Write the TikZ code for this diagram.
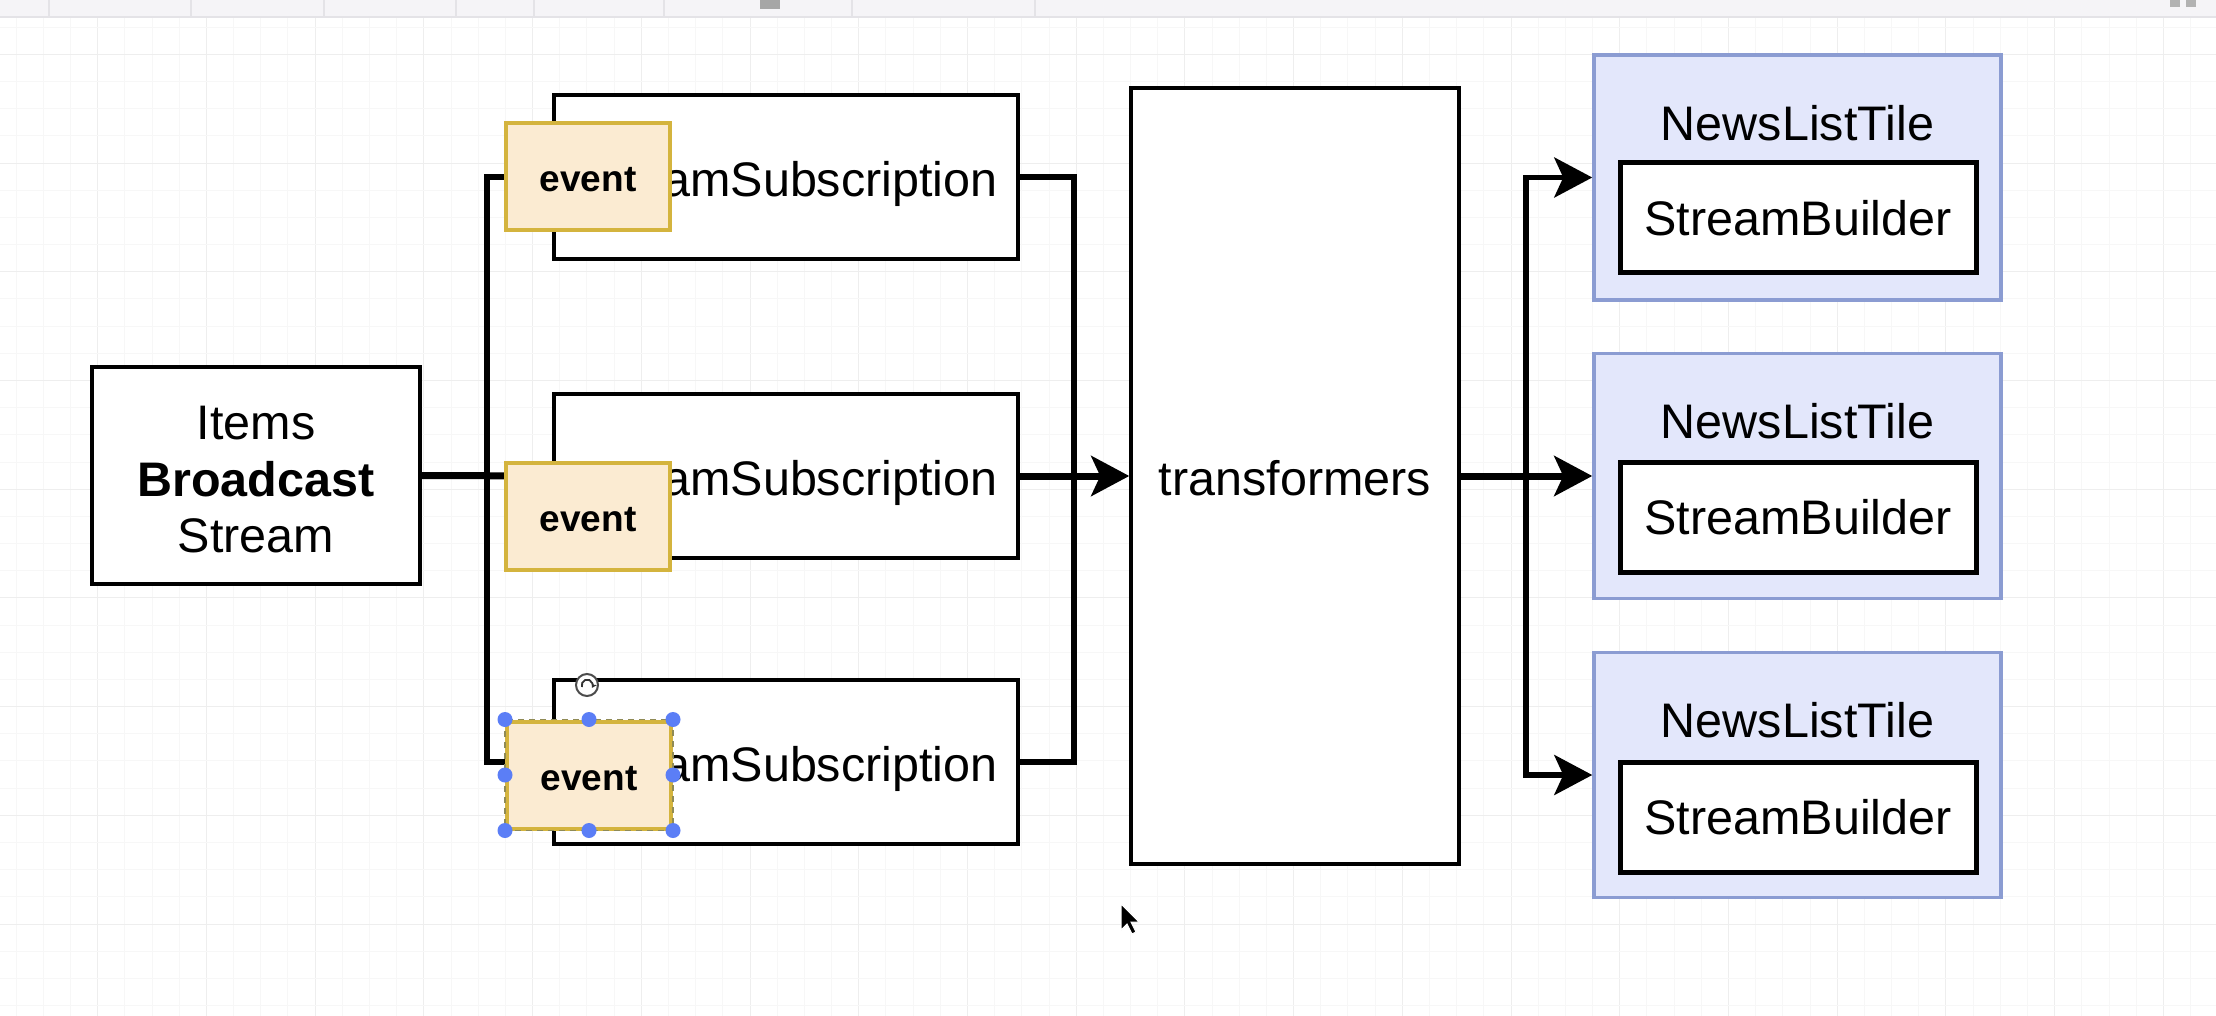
\documentclass[tikz,border=0pt]{standalone}
\usepackage{fontspec}
\setmainfont{Liberation Sans}
\usetikzlibrary{arrows.meta,calc}
\definecolor{evfill}{HTML}{FBEBD2}
\definecolor{evdraw}{HTML}{D4B43E}
\definecolor{nlfill}{HTML}{E3E7FB}
\definecolor{nldraw}{HTML}{8B9CD2}
\definecolor{handlec}{HTML}{5B7EF6}
\definecolor{gridmaj}{HTML}{EEEEEE}
\definecolor{gridmin}{HTML}{F7F7F7}
\definecolor{barfill}{HTML}{F5F4F7}
\definecolor{barline}{HTML}{E4E3E7}
\begin{document}
\begin{tikzpicture}[x=1pt,y=-1pt,
  txt/.style={font=\fontsize{48.5}{56.5}\selectfont, align=center, inner sep=0pt},
  plainbox/.style={draw=black, fill=white, line width=4pt, rectangle, txt},
  subbox/.style={plainbox, minimum width=464pt, minimum height=164pt, text height=50pt},
  evbox/.style={draw=evdraw, fill=evfill, line width=4pt, rectangle, minimum width=164pt, minimum height=107pt, inner sep=0pt, font=\fontsize{37}{44}\selectfont\bfseries, text height=31pt},
  nlbox/.style={draw=nldraw, fill=nlfill, line width=3.5pt, rectangle, minimum width=407pt, minimum height=245pt},
  sbbox/.style={plainbox, line width=5pt, minimum width=356pt, minimum height=110pt},
  conn/.style={draw=black, line width=5.5pt},
  arr/.style={conn, -{Stealth[length=38pt,width=40pt,inset=9pt]}},
  handle/.style={circle, fill=handlec, minimum size=15pt, inner sep=0pt},
  lbl/.style={txt}
]
\useasboundingbox (0,0) rectangle (2216,1016);
\fill[white] (0,0) rectangle (2216,1016);
% grid
\foreach \i in {-4,...,78} {
  \pgfmathsetmacro{\gx}{97.7+27.18*\i}
  \pgfmathtruncatemacro{\m}{mod(\i+400,4)}
  \ifnum\m=0 \draw[gridmaj, line width=1pt] (\gx,18) -- (\gx,1016);
  \else \draw[gridmin, line width=1pt] (\gx,18) -- (\gx,1016); \fi
}
\foreach \j in {0,...,36} {
  \pgfmathsetmacro{\gy}{54.3+27.18*\j}
  \pgfmathtruncatemacro{\m}{mod(\j+400,4)}
  \ifnum\m=0 \draw[gridmaj, line width=1pt] (0,\gy) -- (2216,\gy);
  \else \draw[gridmin, line width=1pt] (0,\gy) -- (2216,\gy); \fi
}
\draw[gridmin, line width=1pt] (0,27.1) -- (2216,27.1);
% top bar
\fill[barfill] (0,0) rectangle (2216,17);
\draw[barline, line width=1.5pt] (0,17) -- (2216,17);
\foreach \sx in {49,191,324,456,534,664,852,1035} \draw[barline, line width=1.5pt] (\sx,0) -- (\sx,17);
\fill[gray!70] (760,0) rectangle (780,9);
\fill[gray!60] (2170,0) rectangle (2180,7);
\fill[gray!60] (2186,0) rectangle (2196,7);

% boxes
\node[plainbox, minimum width=328pt, minimum height=217pt] (items) at (256,475.5) {};
\node[txt] (itemst) at (256,480) {Items\\\textbf{Broadcast}\\Stream};
\node[subbox] (sub1) at (786,177) {StreamSubscription};
\node[subbox] (sub2) at (786,476) {StreamSubscription};
\node[subbox] (sub3) at (786,762) {StreamSubscription};
\node[plainbox, line width=3.5pt, minimum width=328pt, minimum height=776pt, text height=40pt] (trans) at (1295,476) {transformers};

\node[nlbox] (nlt1) at (1797.5,177.5) {};
\node[nlbox] (nlt2) at (1797.5,476) {};
\node[nlbox] (nlt3) at (1797.5,775) {};
\node[lbl] (nlt1t) at (1797.5,123) {NewsListTile};
\node[lbl] (nlt2t) at (1797.5,421.5) {NewsListTile};
\node[lbl] (nlt3t) at (1797.5,720.5) {NewsListTile};
\node[sbbox] (sb1) at (1798,218) {StreamBuilder};
\node[sbbox] (sb2) at (1798,517) {StreamBuilder};
\node[sbbox] (sb3) at (1798,817) {StreamBuilder};

% connectors
\coordinate (bl) at (487,476);
\coordinate (br) at (1074,476);
\coordinate (bt) at (1526,476);
\draw[conn, line width=7pt] (items.east) -- (sub2.west);
\draw[conn, line join=miter] (sub1.west) -| (bl) |- (sub3.west);
\draw[conn, line join=miter] (sub1.east) -| (br) |- (sub3.east);
\draw[arr, line width=7pt] (sub2.east) -- (trans.west);
\draw[arr, line width=7pt] (trans.east) -- (nlt2.west);
\draw[arr] (bt) |- (nlt1.west);
\draw[arr] (bt) |- (nlt3.west);

% event boxes
\node[evbox] (ev1) at (588,176.5) {event};
\node[evbox] (ev2) at (588,516.5) {event};
\node[evbox] (ev3) at (589,775) {event};
\draw[draw=gray!60!olive, line width=1.5pt, dash pattern=on 6pt off 5pt] (ev3.north west) rectangle (ev3.south east);

% selection handles
\foreach \a in {north west,north,north east,west,east,south west,south,south east}
  \node[handle] at (ev3.\a) {};

% rotate handle
\node[circle, draw=gray!60!black, fill=white, line width=2pt, minimum size=22pt, inner sep=0pt] (rot) at (587,685) {};
\draw[gray!40!black, line width=1.8pt, -{Stealth[length=5pt,width=6pt]}] ($(rot.center)+(-5,2)$) arc[start angle=200, end angle=-30, radius=5.5pt];

% cursor
\filldraw[fill=black, draw=white, line width=1pt] (1121,904) -- ++(0,26) -- ++(6,-6) -- ++(5,10) -- ++(4,-2) -- ++(-5,-10) -- ++(8,0) -- cycle;
\end{tikzpicture}
\end{document}
